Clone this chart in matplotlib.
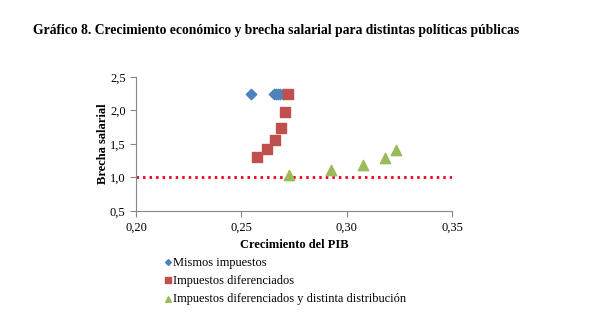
import matplotlib.pyplot as plt
from matplotlib.ticker import FuncFormatter

plt.rcParams['font.family'] = ['Liberation Serif', 'DejaVu Serif']

# Crecimiento del PIB (x) y brecha salarial (y) por escenario
mismos_x = [0.2545, 0.2655, 0.2665, 0.2675, 0.2685, 0.2700]
mismos_y = [2.25, 2.25, 2.25, 2.25, 2.25, 2.25]

difer_x = [0.2576, 0.2623, 0.2658, 0.2688, 0.2709, 0.2720]
difer_y = [1.30, 1.42, 1.565, 1.74, 1.97, 2.25]

distrib_x = [0.2728, 0.2924, 0.3078, 0.3182, 0.3234]
distrib_y = [1.03, 1.11, 1.19, 1.29, 1.405]

ref_y = 1.0

fig = plt.figure(figsize=(5.94, 3.23), dpi=100)
ax = fig.add_axes([0.229, 0.347, 0.532, 0.415])

ax.axhline(ref_y, color='#e8001c', linestyle=(0, (0.9, 1.45)), linewidth=2.0, zorder=1)

ax.scatter(mismos_x, mismos_y, marker='D', s=28, color='#4f81bd', zorder=3,
           label='Mismos impuestos')
ax.scatter(difer_x, difer_y, marker='s', s=48, color='#c0504d', zorder=3,
           label='Impuestos diferenciados')
ax.scatter(distrib_x, distrib_y, marker='^', s=55, color='#9bbb59', zorder=3,
           label='Impuestos diferenciados y distinta distribución')

ax.set_xlim(0.20, 0.35)
ax.set_ylim(0.5, 2.5)
ax.set_xticks([0.20, 0.25, 0.30, 0.35])
ax.set_yticks([0.5, 1.0, 1.5, 2.0, 2.5])
ax.xaxis.set_major_formatter(FuncFormatter(lambda v, p: f'{v:.2f}'.replace('.', ',')))
ax.yaxis.set_major_formatter(FuncFormatter(lambda v, p: f'{v:.1f}'.replace('.', ',')))
ax.tick_params(labelsize=9, length=4, color='#888888', direction='out')

for side in ['top', 'right']:
    ax.spines[side].set_visible(False)
for side in ['left', 'bottom']:
    ax.spines[side].set_color('#888888')
    ax.spines[side].set_linewidth(0.8)

ax.set_xlabel('Crecimiento del PIB', fontsize=9, fontweight='bold', labelpad=4)
ax.set_ylabel('Brecha salarial', fontsize=9, fontweight='bold', labelpad=1)

fig.text(0.056, 0.905, 'Gráfico 8. Crecimiento económico y brecha salarial para distintas políticas públicas',
         fontsize=9.8, fontweight='bold', va='center')

leg = fig.legend(loc='upper left', bbox_to_anchor=(0.262, 0.225), frameon=False,
                 fontsize=8.9, handletextpad=-0.1, labelspacing=0.5,
                 markerscale=0.55, borderpad=0, handlelength=1.0)

fig.savefig('out.png', dpi=100)
